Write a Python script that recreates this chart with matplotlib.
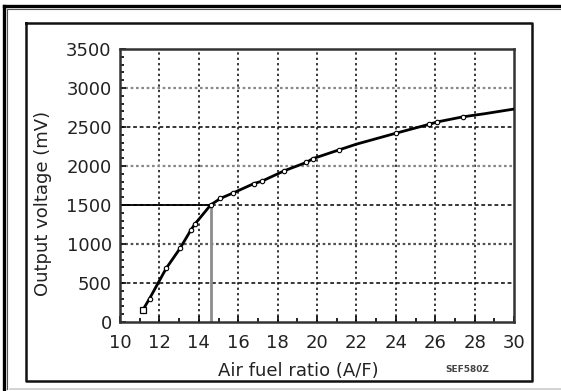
import matplotlib
matplotlib.use("Agg")
import matplotlib.pyplot as plt
from matplotlib.lines import Line2D
from matplotlib.ticker import MultipleLocator

# data
afr = [11.15, 11.5, 12.35, 13.05, 13.6, 13.8, 14.6, 15.1, 15.75, 16.8, 17.2,
       18.35, 19.45, 19.8, 21.1, 22.0, 24.0, 25.7, 26.1, 27.4, 28.5, 30.0]
mv = [150, 300, 690, 945, 1180, 1255, 1500, 1585, 1655, 1775, 1805,
      1940, 2045, 2095, 2205, 2280, 2420, 2535, 2565, 2630, 2670, 2730]
# which points carry a marker
marked = [0, 1, 2, 3, 4, 5, 6, 7, 8, 9, 10, 11, 12, 13, 14, 16, 17, 18, 19]

x_ticks = [10, 12, 14, 16, 18, 20, 22, 24, 26, 28, 30]
y_ticks = [0, 500, 1000, 1500, 2000, 2500, 3000, 3500]
grey_levels = [1000, 2000, 3000]
stoich_afr = 14.6
stoich_mv = 1500

W, H = 561, 391
fig = plt.figure(figsize=(W / 100, H / 100), dpi=100)
fig.patch.set_facecolor("white")

# outer and inner frames, in pixel coordinates
def px_line(xs, ys, **kw):
    fig.add_artist(Line2D([x / W for x in xs], [1 - y / H for y in ys],
                          transform=fig.transFigure, **kw))

px_line([4, 4], [6, 389], color="black", lw=2.4)
px_line([4, 561], [6, 6], color="black", lw=2.4)
px_line([7, 7], [9, 389], color="#555555", lw=0.8)
px_line([7, 561], [9, 9], color="#555555", lw=0.8)
px_line([10, 561], [389, 389], color="#cccccc", lw=1.2)
px_line([26, 532, 532, 26, 26], [23, 23, 381, 381, 23], color="#111111", lw=1.8)

ax = fig.add_axes([120 / W, (H - 322) / H, 394 / W, 273 / H])
ax.set_xlim(10, 30)
ax.set_ylim(0, 3500)

for v in x_ticks[1:-1]:
    ax.axvline(v, color="black", lw=1.1, ls=(0, (1.5, 2)), zorder=1)
for v in y_ticks[1:-1]:
    if v in grey_levels:
        c = "#8a8a8a" if v != 1000 else "#555555"
        ax.axhline(v, color=c, lw=1.6, ls=(0, (1.2, 1.2)), zorder=1)
    else:
        ax.axhline(v, color="black", lw=1.1, ls=(0, (2.5, 1.8)), zorder=1)

# stoichiometric reference lines
ax.plot([10, stoich_afr], [stoich_mv, stoich_mv], color="black", lw=1.3, zorder=2)
ax.plot([stoich_afr, stoich_afr], [0, stoich_mv], color="#8c8c8c", lw=2.0, zorder=2)

ax.plot(afr, mv, color="black", lw=2.0, zorder=3, solid_joinstyle="round")
ax.plot([afr[i] for i in marked[1:]], [mv[i] for i in marked[1:]], ls="none",
        marker="o", ms=3.2, mfc="white", mec="black", mew=0.8, zorder=4)
ax.plot(afr[0], mv[0], ls="none", marker="s", ms=3.8, mfc="white", mec="black",
        mew=0.9, zorder=4)

for s in ax.spines.values():
    s.set_linewidth(1.8)
    s.set_color("#333333")

ax.set_xticks(x_ticks)
ax.set_yticks(y_ticks)
ax.xaxis.set_minor_locator(MultipleLocator(1))
ax.yaxis.set_minor_locator(MultipleLocator(100))
ax.tick_params(which="major", direction="in", length=4, width=1.2, color="black")
ax.tick_params(which="minor", direction="in", length=3, width=1.2, color="black")
ax.tick_params(axis="x", which="major", pad=9, labelsize=13, labelcolor="#222222")
ax.tick_params(axis="y", which="major", pad=6, labelsize=13, labelcolor="#222222")

fig.text(298 / W, 1 - 371 / H, "Air fuel ratio (A/F)", ha="center", va="center",
         fontsize=13, color="#222222")
fig.text(43 / W, 1 - 203 / H, "Output voltage (mV)", ha="center", va="center",
         rotation=90, fontsize=13, color="#222222")
fig.text(467 / W, 1 - 370 / H, "SEF580Z", ha="center", va="center",
         fontsize=6.5, color="#444444", fontweight="bold")

fig.savefig("out.png", dpi=100)
